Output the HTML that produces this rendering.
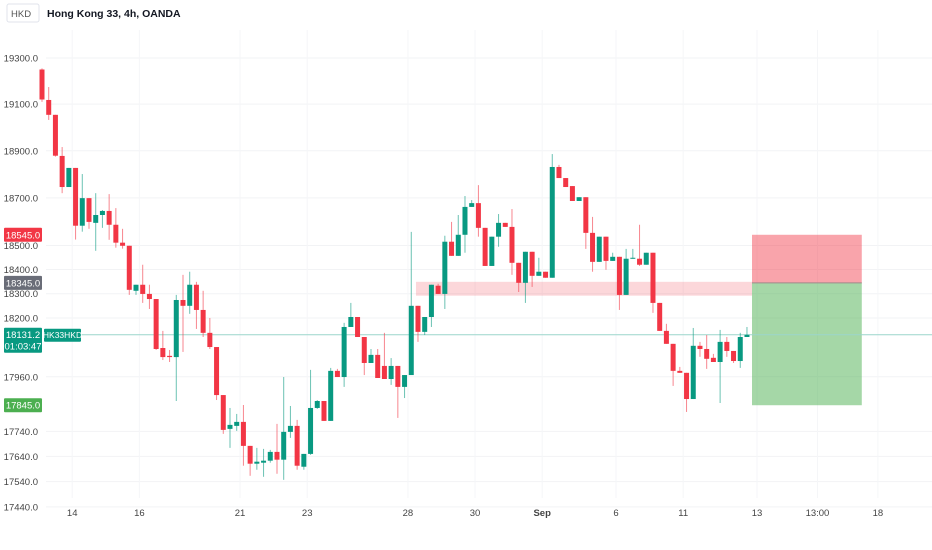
<!DOCTYPE html>
<html><head><meta charset="utf-8">
<style>
html,body{margin:0;padding:0;background:#fff;}
body{width:932px;height:550px;overflow:hidden;position:relative;font-family:"Liberation Sans",sans-serif;}
svg{position:absolute;left:0;top:0;}
</style></head>
<body>
<svg id="chart" width="932" height="550" xmlns="http://www.w3.org/2000/svg">
  <rect x="7" y="4" width="32" height="18" rx="2" fill="#fff" stroke="#e0e3eb"/>
  <text x="11" y="17" font-size="9.5" fill="#555">HKD</text>
  <text x="47" y="17" font-size="10.5" font-weight="bold" fill="#131722">Hong Kong 33, 4h, OANDA</text>
  <g id="grid"></g>
  <g id="zones"></g>
  <g id="candles"></g>
  <g id="axis"></g>
  <g id="labels"></g>
</svg>
<script>
const priceTicks = [19300,19100,18900,18700,18500,18400,18300,18200,17960,17740,17640,17540,17440];
const dateLabels = ["14","16","21","23","28","30","Sep","6","11","13","13:00","18"];
const dateIndex = [4.5,14.5,29.5,39.5,54.5,64.5,74.5,85.5,95.5,106.5,115.5,124.5];
const opens = [19250,19118,19054,18878,18746,18827,18583,18699,18595,18628,18645,18587,18512,18499,18312,18337,18299,18278,18077,18045,18040,18274,18250,18337,18233,18139,18081,17886,17750,17762,17778,17682,17611,17615,17623,17658,17627,17738,17762,17599,17650,17834,
17862,17782,17984,17959,18163,18204,18122,18016,18049,18004,17951,18004,17919,17967,18250,18143,18204,18333,18299,18516,18457,18545,18662,18678,18574,18415,18537,18595,18578,18428,18345,18474,18374,18391,18366,18831,18784,18750,18687,18703,18553,18432,18537,18436,18453,18295,18445,18445,18420,18470,18262,18147,18094,17984,17976,17870,18086,18073,18037,18020,18102,18065,18024,18122];
const highs = [19255,19174,19054,18916,18827,18827,18801,18699,18720,18649,18716,18657,18570,18499,18337,18420,18337,18278,18147,18069,18295,18378,18391,18349,18312,18200,18081,17886,17834,17810,17846,17682,17674,17670,17666,17770,17959,17842,17786,17650,17988,17866,
17862,17996,17992,18180,18262,18204,18122,18073,18073,18139,18036,18004,17967,18557,18250,18204,18337,18341,18541,18599,18628,18708,18691,18754,18574,18537,18632,18595,18653,18428,18474,18474,18449,18391,18886,18840,18784,18750,18703,18703,18620,18537,18537,18470,18453,18486,18486,18587,18470,18470,18262,18176,18094,18000,17976,18159,18102,18130,18053,18151,18122,18065,18139,18163];
const lows = [19110,19032,18875,18720,18746,18525,18558,18570,18478,18574,18524,18491,18487,18295,18295,18262,18237,18069,18028,18020,17862,18061,18217,18155,18122,18073,17866,17730,17674,17742,17603,17563,17587,17559,17615,17571,17547,17714,17587,17587,17646,17830,
17782,17782,17959,17919,18163,18122,17967,18016,17955,17951,17927,17794,17874,17967,18102,18130,18163,18299,18237,18457,18457,18470,18662,18537,18415,18415,18495,18578,18378,18307,18262,18328,18374,18366,18366,18784,18746,18687,18687,18486,18391,18432,18399,18436,18233,18295,18445,18415,18420,18221,18147,18094,17923,17976,17818,17870,18041,17992,18020,17854,18041,18016,17996,18122];
const closes = [19120,19054,18879,18746,18827,18583,18699,18599,18628,18645,18587,18512,18499,18316,18337,18299,18278,18073,18040,18040,18274,18250,18337,18233,18139,18081,17886,17746,17766,17778,17682,17611,17619,17623,17658,17627,17738,17762,17603,17650,17834,17862,
17782,17984,17959,18163,18204,18122,18016,18049,17955,17951,18004,17919,17967,18250,18143,18204,18337,18299,18516,18457,18545,18662,18678,18574,18415,18537,18595,18578,18428,18345,18474,18374,18391,18366,18831,18784,18746,18687,18703,18553,18432,18537,18436,18453,18295,18445,18449,18420,18470,18262,18147,18094,17984,17976,17870,18086,18073,18033,18020,18102,18065,18024,18122,18131];
const lastPrice = 18131.2;
const supplyZone = {from:56, to:105.75, top:18345, bottom:18300};
const position = {from:105.75, to:122.1, stop:18545, entry:18345, target:17845};

const NS = "http://www.w3.org/2000/svg";
function yOf(p){ return 58 + 4430*Math.log(19300/p); }
function xOf(i){ return 42 + i*6.714; }
function mk(tag, attrs, parent){
  const el = document.createElementNS(NS, tag);
  for (const k in attrs) el.setAttribute(k, attrs[k]);
  parent.appendChild(el);
  return el;
}
const grid = document.getElementById('grid');
const axis = document.getElementById('axis');
priceTicks.forEach(p=>{
  const y = yOf(p);
  const l = mk('line',{x1:46,x2:932,y1:y,y2:y,stroke:'#f2f3f5','stroke-width':1},grid);
  
  
  const t = mk('text',{x:38,y:y+3.5,'font-size':9.5,fill:'#444','text-anchor':'end'},axis);
  t.textContent = p.toFixed(1);
  
  
});
dateLabels.forEach((d,k)=>{
  const x = xOf(dateIndex[k]);
  const l = mk('line',{x1:x,x2:x,y1:30,y2:498,stroke:'#f5f6f8','stroke-width':1},grid);
  
  
  const t = mk('text',{x:x,y:516,'font-size':9.5,fill:'#444','text-anchor':'middle','font-weight':d==='Sep'?'bold':'normal'},axis);
  t.textContent = d;
  
  
});
const zones = document.getElementById('zones');
const sz = mk('rect',{x:xOf(supplyZone.from)-2,y:yOf(supplyZone.top)-1,width:xOf(supplyZone.to)-xOf(supplyZone.from)+2,height:yOf(supplyZone.bottom)-yOf(supplyZone.top)+3,fill:'rgba(242,54,69,0.2)'},zones);


const px1 = xOf(position.from), px2 = xOf(position.to);
const sl = mk('rect',{x:px1,y:yOf(position.stop),width:px2-px1,height:yOf(position.entry)-yOf(position.stop),fill:'rgba(242,54,69,0.45)'},zones);


const tp = mk('rect',{x:px1,y:yOf(position.entry),width:px2-px1,height:yOf(position.target)-yOf(position.entry),fill:'rgba(76,175,80,0.5)'},zones);


const el = mk('line',{x1:px1,x2:px2,y1:yOf(position.entry),y2:yOf(position.entry),stroke:'#9e8a8a','stroke-width':1},zones);


const cl = mk('line',{x1:44,x2:932,y1:yOf(lastPrice),y2:yOf(lastPrice),stroke:'#9bd6cc','stroke-width':1},zones);


const cg = document.getElementById('candles');
opens.forEach((o,i)=>{
  const c = closes[i], h = highs[i], lo = lows[i];
  const col = c>=o ? '#089981' : '#F23645';
  const x = xOf(i);
  const w = mk('line',{x1:x,x2:x,y1:yOf(h),y2:yOf(lo),stroke:col,'stroke-width':1,'stroke-opacity':0.6},cg);
  
  
  const yt = yOf(Math.max(o,c)), yb = yOf(Math.min(o,c));
  const b = mk('rect',{x:x-2.5,y:yt,width:5,height:Math.max(1,yb-yt),fill:col},cg);
  
  
});
const lg = document.getElementById('labels');
function tag(text, price, fill, name, h){
  const y = yOf(price);
  const r = mk('rect',{x:4,y:y-7,width:38,height:h||14,rx:1,fill:fill},lg);
  
  
  const t = mk('text',{x:23,y:y+3.5,'font-size':9.5,fill:'#fff','text-anchor':'middle'},lg);
  t.textContent = text;
  
  
}
tag(position.stop.toFixed(1), position.stop, '#F23645', 'stop-price-label');
tag(position.entry.toFixed(1), position.entry, '#6a6d78', 'entry-price-label');
tag(position.target.toFixed(1), position.target, '#4CAF50', 'target-price-label');
tag(lastPrice.toFixed(1), lastPrice, '#089981', 'last-price-label', 25);
const cd = mk('text',{x:23,y:yOf(lastPrice)+15,'font-size':9.5,fill:'#fff','text-anchor':'middle'},lg);
cd.textContent = '01:03:47';


const sb = mk('rect',{x:44,y:yOf(lastPrice)-6,width:37,height:13,rx:1,fill:'#089981'},lg);


const st = mk('text',{x:62.5,y:yOf(lastPrice)+3.5,'font-size':8.5,fill:'#fff','text-anchor':'middle'},lg);
st.textContent = 'HK33HKD';


</script>
</body></html>
